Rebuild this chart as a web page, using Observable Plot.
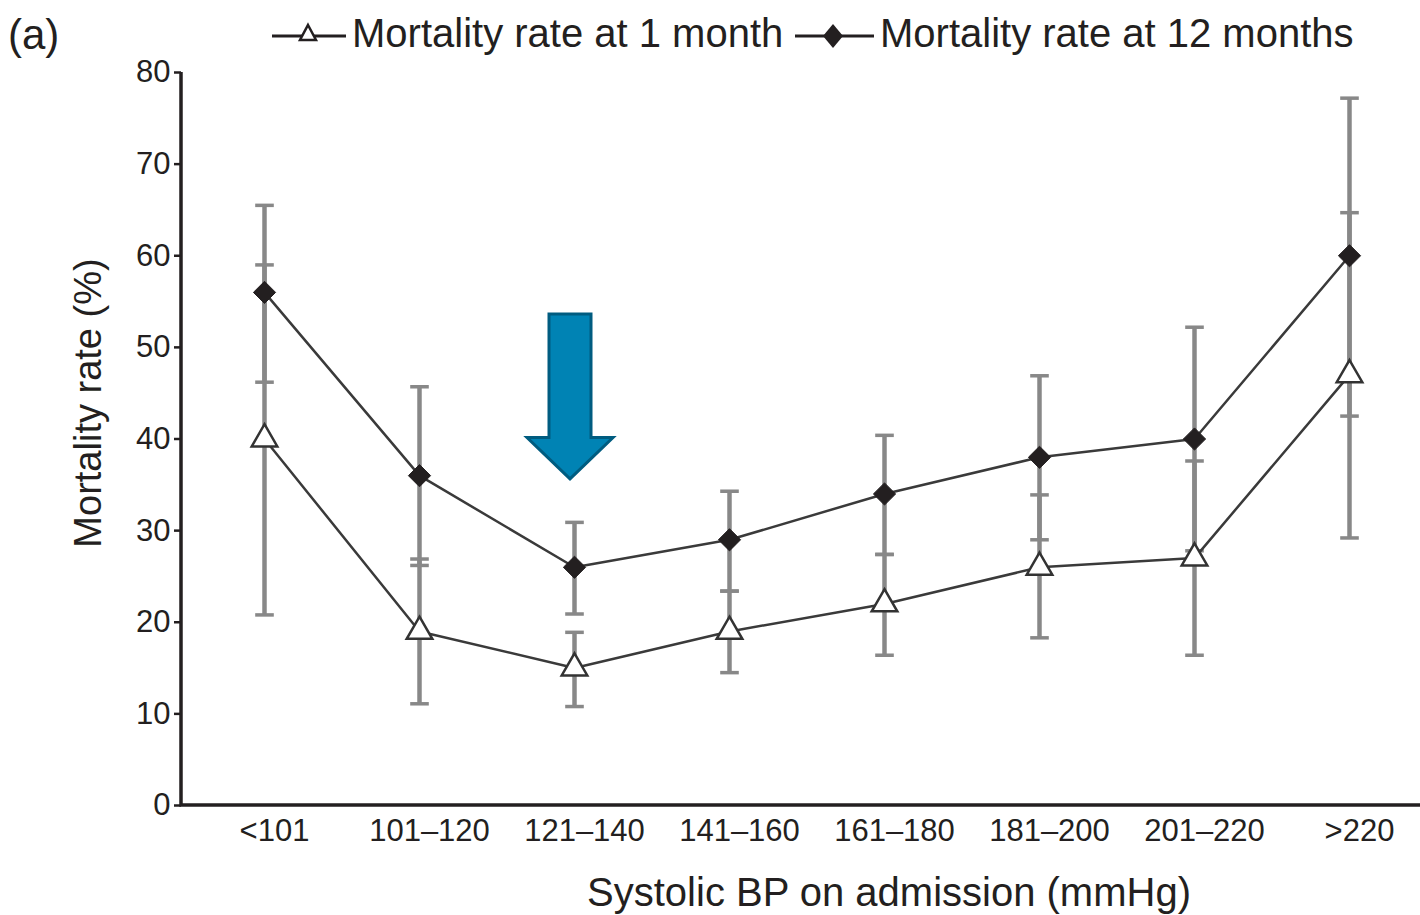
<!DOCTYPE html>
<html><head><meta charset="utf-8">
<script src="https://cdn.jsdelivr.net/npm/d3@7"></script>
<script src="https://cdn.jsdelivr.net/npm/@observablehq/plot@0.6"></script>
<style>
body{margin:0;background:#fff;font-family:"Liberation Sans",Arial,sans-serif;color:#231f20;}
#wrap{position:relative;width:1420px;height:915px;overflow:hidden;background:#fff}
#head{position:relative;height:56px}
.t{position:absolute;font-size:40px;white-space:nowrap;line-height:1}
</style></head><body>
<div id="wrap">
<div id="head">
  <span class="t" style="left:8px;top:14px;font-size:42px">(a)</span>
  <svg style="position:absolute;left:0;top:0" width="1420" height="56">
    <line x1="272" x2="346" y1="36" y2="36" stroke="#231f20" stroke-width="3"/>
    <path d="M308,25 L316,40 L300,40 Z" fill="#fff" stroke="#231f20" stroke-width="2.5"/>
    <line x1="795" x2="874" y1="36" y2="36" stroke="#231f20" stroke-width="3"/>
    <path d="M833,24 L843,36 L833,48 L823,36 Z" fill="#231f20"/>
  </svg>
  <span class="t" style="left:352px;top:13px">Mortality rate at 1 month</span>
  <span class="t" style="left:880px;top:13px">Mortality rate at 12 months</span>
</div>
<div id="chart"></div>
</div>
<script>
// Data
const categories = ["<101", "101–120", "121–140", "141–160", "161–180", "181–200", "201–220", ">220"];
const month1 = [40, 19, 15, 19, 22, 26, 27, 47];
const month1Low = [20.8, 11.1, 10.8, 14.5, 16.4, 18.3, 16.4, 29.2];
const month1High = [59, 26.9, 18.9, 23.4, 27.4, 33.9, 37.6, 64.7];
const month12 = [56, 36, 26, 29, 34, 38, 40, 60];
const month12Low = [46.2, 26.2, 20.9, 23.4, 27.4, 29, 27.8, 42.5];
const month12High = [65.5, 45.7, 30.9, 34.3, 40.4, 46.9, 52.2, 77.2];
const yTicks = [0, 10, 20, 30, 40, 50, 60, 70, 80];
const arrowCategory = "121–140";
const arrowTop = 53.6, arrowHeadBase = 40.1, arrowTip = 35.6;

const rows = categories.map((c, i) => ({
  cat: c, m1: month1[i], m1lo: month1Low[i], m1hi: month1High[i],
  m12: month12[i], m12lo: month12Low[i], m12hi: month12High[i]
}));
const caps = rows.flatMap(d => [
  {cat: d.cat, v: d.m1lo}, {cat: d.cat, v: d.m1hi},
  {cat: d.cat, v: d.m12lo}, {cat: d.cat, v: d.m12hi}
]);
const capSymbol = {draw(context, size) { const w = Math.sqrt(size); context.moveTo(-w / 2, 0); context.lineTo(w / 2, 0); }};
const ink = "#231f20";
const barColor = "#888888";

const chart = Plot.plot({
  width: 1420, height: 859,
  marginLeft: 181, marginRight: 0, marginTop: 16, marginBottom: 110,
  style: {fontFamily: "'Liberation Sans', Arial, sans-serif", fontSize: "31px", color: ink, background: "white", overflow: "visible"},
  x: {type: "point", domain: categories, padding: 0.49, align: 0.54, label: null},
  y: {domain: [0, 80], label: null},
  marks: [
    Plot.axisY({ticks: yTicks, tickSize: 7, tickPadding: 4, label: null, strokeWidth: 2.5, fontSize: 31}),
    Plot.axisX({tickSize: 0, tickPadding: 13, label: null, fontSize: 31, dx: 10}),
    Plot.text(["Systolic BP on admission (mmHg)"], {frameAnchor: "bottom", dx: 88, dy: 100, fontSize: 40, fill: ink}),
    Plot.text(["Mortality rate (%)"], {frameAnchor: "left", textAnchor: "middle", rotate: -90, dx: -93, dy: -36, fontSize: 38, fill: ink}),
    // axis lines
    (index, scales, values, dimensions) => {
      const {width, height, marginLeft, marginRight, marginTop, marginBottom} = dimensions;
      return d3.create("svg:path")
        .attr("d", `M${marginLeft},${marginTop}V${height - marginBottom}H${width - marginRight}`)
        .attr("fill", "none").attr("stroke", ink).attr("stroke-width", 3.5).node();
    },
    // error bars
    Plot.ruleX(rows, {x: "cat", y1: "m12lo", y2: "m12hi", stroke: barColor, strokeWidth: 4.5}),
    Plot.ruleX(rows, {x: "cat", y1: "m1lo", y2: "m1hi", stroke: barColor, strokeWidth: 4.5}),
    Plot.dot(caps, {x: "cat", y: "v", symbol: capSymbol, r: 10.5, fill: "none", stroke: barColor, strokeWidth: 3.5}),
    // series
    Plot.line(rows, {x: "cat", y: "m1", stroke: "#3a3a3a", strokeWidth: 2.5}),
    Plot.line(rows, {x: "cat", y: "m12", stroke: "#3a3a3a", strokeWidth: 2.5}),
    Plot.dot(rows, {x: "cat", y: "m1", symbol: "triangle", r: 9.5, fill: "white", stroke: "#333", strokeWidth: 2.5}),
    Plot.dot(rows, {x: "cat", y: "m12", symbol: "diamond2", r: 10, fill: ink, stroke: ink, strokeWidth: 1}),
    // arrow annotation
    (index, scales) => {
      const cx = scales.x(arrowCategory) - 4;
      const yTop = scales.y(arrowTop), yBase = scales.y(arrowHeadBase), yTip = scales.y(arrowTip);
      const sw = 21, hw = 43;
      return d3.create("svg:path")
        .attr("d", `M${cx - sw},${yTop}H${cx + sw}V${yBase}H${cx + hw}L${cx},${yTip}L${cx - hw},${yBase}H${cx - sw}Z`)
        .attr("fill", "#0083b4").attr("stroke", "#005c80").attr("stroke-width", 3).attr("stroke-linejoin", "miter").node();
    }
  ]
});
document.getElementById("chart").appendChild(chart);
</script>
</body></html>
